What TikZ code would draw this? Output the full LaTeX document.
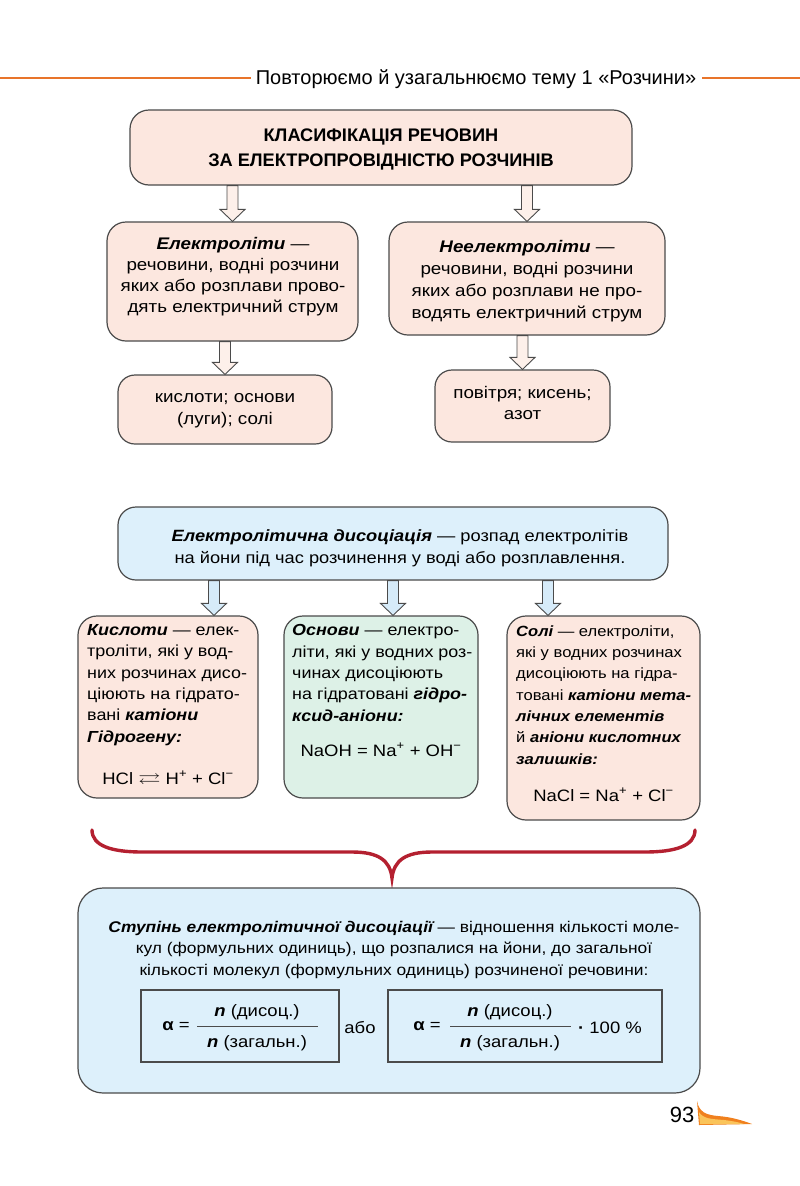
\documentclass[tikz,border=0pt]{standalone}
\usepackage{fontspec}
\usepackage{amssymb}
\setmainfont{Liberation Sans}[FakeStretch=1.12]
\newfontfamily\normfont{Liberation Sans}
\usetikzlibrary{calc}
\definecolor{pinkf}{RGB}{252,231,223}
\definecolor{bluef}{RGB}{221,240,251}
\definecolor{greenf}{RGB}{221,241,231}
\definecolor{bordc}{RGB}{75,75,75}
\definecolor{arrpink}{RGB}{253,240,234}
\definecolor{arrblue}{RGB}{214,235,249}
\definecolor{bracec}{RGB}{180,32,48}
\definecolor{hdrorange}{RGB}{232,116,42}
\definecolor{swo}{RGB}{240,128,30}
\definecolor{swy}{RGB}{250,196,90}
\newcommand\bdit[1]{{\bfseries\itshape #1}}
\newcommand\eqarr{\scalebox{1.35}[1]{$\rightleftarrows$}}
\newcommand\blockarrow[3]{%
  \path[#1] let \p1=(#2), \p2=(#3) in
    (\x1-5.5pt,\y1) -- (\x1-5.5pt,\y2+12pt) -- (\x1-12.5pt,\y2+12pt) -- (\x1,\y2)
    -- (\x1+12.5pt,\y2+12pt) -- (\x1+5.5pt,\y2+12pt) -- (\x1+5.5pt,\y1) -- cycle;}
\tikzset{
  box/.style={draw=bordc, line width=1.2pt, inner sep=0pt, rounded corners=19pt},
  pinkbox/.style={box, fill=pinkf},
  bluebox/.style={box, fill=bluef},
  greenbox/.style={box, fill=greenf},
  ltxt/.style={inner sep=0pt, align=left, anchor=base west, font=\fontsize{16}{21.3}\selectfont},
  ctxt/.style={inner sep=0pt, align=center, anchor=base},
  arrP/.style={draw=bordc, line width=0.9pt, fill=arrpink},
  arrB/.style={draw=bordc, line width=0.9pt, fill=arrblue},
  fbox/.style={draw=bordc, line width=1.2pt, inner sep=0pt},
  ftxt/.style={ctxt, font=\fontsize{16.5}{20}\selectfont},
}
\begin{document}
\begin{tikzpicture}[x=1pt,y=-1pt]
\useasboundingbox[fill=white] (0,0) rectangle (800,1186);

% header
\node[ctxt, font=\normfont\fontsize{20}{22}\selectfont] (hdr) at (476,84) {Повторюємо й узагальнюємо тему 1 «Розчини»};
\coordinate (hl) at (0,78);
\coordinate (hr) at (800,78);
\draw[hdrorange, line width=2.2pt] (hl) -- ($(hdr.west |- hl)+(-5,0)$);
\draw[hdrorange, line width=2.2pt] ($(hdr.east |- hr)+(6,0)$) -- (hr);

% classification
\node[pinkbox, minimum width=502pt, minimum height=75pt] (cls) at (381,147.5) {};
\node[ctxt, font=\normfont\bfseries\fontsize{18.2}{25}\selectfont] (clst) at (381,166.5)
  {КЛАСИФІКАЦІЯ РЕЧОВИН\\ЗА ЕЛЕКТРОПРОВІДНІСТЮ РОЗЧИНІВ};

\node[pinkbox, minimum width=251pt, minimum height=119pt] (el) at (232.5,281.5) {};
\node[ctxt, font=\fontsize{16.8}{21}\selectfont] (elt) at (233,312)
  {\bdit{Електроліти} —\\речовини, водні розчини\\яких або розплави прово-\\дять електричний струм};
\node[pinkbox, minimum width=276pt, minimum height=113pt] (nel) at (527,278.5) {};
\node[ctxt, font=\fontsize{16.8}{22}\selectfont] (nelt) at (527,318)
  {\bdit{Неелектроліти} —\\речовини, водні розчини\\яких або розплави не про-\\водять електричний струм};

\node[pinkbox, minimum width=214pt, minimum height=69pt, rounded corners=17pt] (elx) at (225,409.5) {};
\node[ctxt, font=\fontsize{16.8}{22}\selectfont] (elxt) at (225,424) {кислоти; основи\\(луги); солі};
\node[pinkbox, minimum width=175pt, minimum height=72pt, rounded corners=17pt] (nelx) at (522.5,406) {};
\node[ctxt, font=\fontsize{16.8}{21}\selectfont] (nelxt) at (522.5,419) {повітря; кисень;\\азот};

\blockarrow{arrP}{el.north |- cls.south}{el.north}
\blockarrow{arrP}{nel.north |- cls.south}{nel.north}
\blockarrow{arrP}{elx.north |- el.south}{elx.north}
\blockarrow{arrP}{nelx.north |- nel.south}{nelx.north}

% dissociation
\node[bluebox, minimum width=550pt, minimum height=73pt, rounded corners=18pt] (dis) at (393,543.5) {};
\node[ctxt, font=\fontsize{16.3}{21.5}\selectfont] (dist) at (400,563)
  {\bdit{Електролітична дисоціація} — розпад електролітів\\на йони під час розчинення у воді або розплавлення.};

\node[pinkbox, minimum width=180pt, minimum height=182pt] (kis) at (168,707) {};
\node[greenbox, minimum width=194pt, minimum height=182pt] (osn) at (381,707) {};
\node[pinkbox, minimum width=193pt, minimum height=204pt] (sol) at (603.5,718) {};

\node[ltxt] (kist) at (87,742)
  {\bdit{Кислоти} — елек-\\троліти, які у вод-\\них розчинах дисо-\\ціюють на гідрато-\\вані \bdit{катіони}\\\bdit{Гідрогену:}};
\node[ftxt] (kisf) at (168,784)
  {HCl \eqarr\ H\textsuperscript{+} + Cl\textsuperscript{−}};
\node[ltxt] (osnt) at (292,721)
  {\bdit{Основи} — електро-\\літи, які у водних роз-\\чинах дисоціюють\\на гідратовані \bdit{гідро-}\\\bdit{ксид-аніони:}};
\node[ftxt] (osnf) at (381,756)
  {NaOH = Na\textsuperscript{+} + OH\textsuperscript{−}};
\node[ltxt, font=\fontsize{14.8}{21.3}\selectfont] (solt) at (516,764)
  {\bdit{Солі} — електроліти,\\які у водних розчинах\\дисоціюють на гідра-\\товані \bdit{катіони мета-}\\\bdit{лічних елементів}\\й \bdit{аніони кислотних}\\\bdit{залишків:}};
\node[ftxt] (solf) at (603.5,801)
  {NaCl = Na\textsuperscript{+} + Cl\textsuperscript{−}};

\coordinate (a1) at (214,0);
\coordinate (a2) at (393,0);
\coordinate (a3) at (548,0);
\blockarrow{arrB}{a1 |- dis.south}{a1 |- kis.north}
\blockarrow{arrB}{a2 |- dis.south}{a2 |- osn.north}
\blockarrow{arrB}{a3 |- dis.south}{a3 |- sol.north}

% brace
\coordinate (bl) at (92,830);
\coordinate (bt) at (392,878);
\coordinate (br) at (695,830);
\draw[bracec, line width=3.4pt, line cap=round]
  (bl) .. controls (92,846) and (112,852) .. (142,852) -- (352,852)
  .. controls (378,852) and (390,860) .. (bt)
  .. controls (394,860) and (406,852) .. (432,852) -- (645,852)
  .. controls (675,852) and (695,846) .. (br);

% degree of dissociation
\node[bluebox, minimum width=622pt, minimum height=205pt, rounded corners=25pt] (deg) at (389,990.5) {};
\node[ctxt, font=\fontsize{15.5}{21.5}\selectfont] (degt) at (394,975)
  {\bdit{Ступінь електролітичної дисоціації} — відношення кількості моле-\\
   кул (формульних одиниць), що розпалися на йони, до загальної\\
   кількості молекул (формульних одиниць) розчиненої речовини:};

\node[fbox, minimum width=198pt, minimum height=72pt] (f1) at (240,1026) {};
\node[fbox, minimum width=274pt, minimum height=72pt] (f2) at (525,1026) {};
\node[ftxt] (abo) at (360,1033) {або};

\node[inner sep=0pt, font=\fontsize{16.5}{20}\selectfont] (al1) at (176,1026) {{\bfseries α} =};
\coordinate (l1a) at (197,1026);
\coordinate (l1b) at (318,1026);
\draw[bordc, line width=1pt] (l1a) -- (l1b);
\node[ftxt] (n1) at (257,1016) {\bdit{n} (дисоц.)};
\node[ftxt] (d1) at (257,1047) {\bdit{n} (загальн.)};

\node[inner sep=0pt, font=\fontsize{16.5}{20}\selectfont] (al2) at (427,1026) {{\bfseries α} =};
\coordinate (l2a) at (450,1026);
\coordinate (l2b) at (571,1026);
\draw[bordc, line width=1pt] (l2a) -- (l2b);
\node[ftxt] (n2) at (510,1016) {\bdit{n} (дисоц.)};
\node[ftxt] (d2) at (510,1047) {\bdit{n} (загальн.)};
\node[ftxt] (pc) at (610,1033) {\textbf{·} 100 \%};

% page number
\node[ctxt, font=\normfont\fontsize{22}{24}\selectfont] (pg) at (682,1122) {93};
\fill[swo] (697,1101) .. controls (699,1112) and (706,1115) .. (718,1116)
  .. controls (732,1117) and (744,1121) .. (752,1124) -- (699,1125) -- cycle;
\fill[swy] (699,1112) .. controls (703,1119) and (712,1119) .. (724,1120)
  .. controls (732,1121) and (738,1122) .. (744,1124) -- (700,1124) -- cycle;
\end{tikzpicture}
\end{document}
